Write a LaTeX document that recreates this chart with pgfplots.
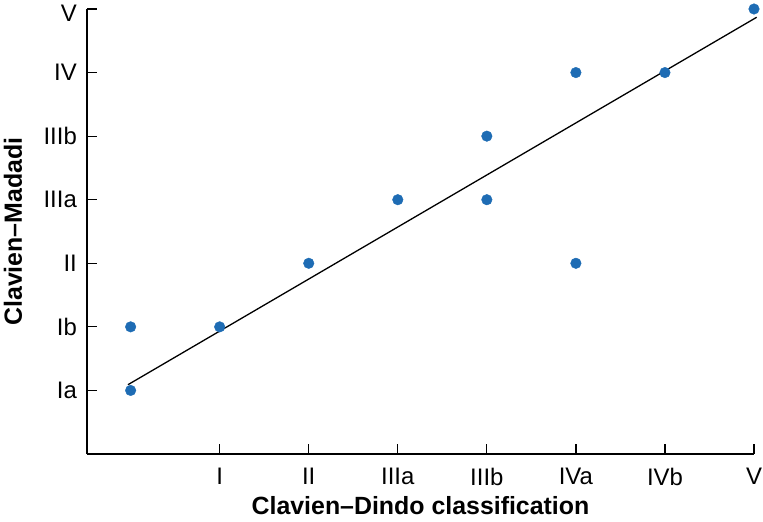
\documentclass[border=0pt]{standalone}
\usepackage{pgfplots}
\pgfplotsset{compat=1.18}
\usepackage{fontspec}
\setmainfont{Liberation Sans}
\definecolor{ptblue}{RGB}{30,108,180}
\begin{document}
\begin{tikzpicture}
\useasboundingbox (-87bp,-68bp) rectangle (676bp,454bp);
\begin{axis}[
 at={(0,0)}, anchor=south west,
 scale only axis, width=667bp, height=445bp,
 xmin=-0.49, xmax=7, ymin=0, ymax=7,
 axis x line*=bottom, axis y line*=left,
 axis line style={line width=1.2bp},
 tick style={line width=1.2bp, black},
 tick align=inside, major tick length=10bp,
 xtick={1,2,3,4,5,6,7}, xticklabels={I,II,IIIa,IIIb,IVa,IVb,V},
 ytick={1,2,3,4,5,6,7}, yticklabels={Ia,Ib,II,IIIa,IIIb,IV,\raisebox{-12bp}[0pt][0pt]{V}},
 tick label style={font=\fontsize{24}{27}\selectfont},
 xticklabel style={anchor=north, inner sep=0pt, yshift=-14bp},
 yticklabel style={anchor=east, inner sep=0pt, xshift=-10bp},
 xlabel={Clavien–Dindo classification}, ylabel={Clavien–Madadi},
 label style={font=\fontsize{25}{28}\selectfont\bfseries},
 xlabel style={at={(axis description cs:0.5,-0.115)}, anchor=center},
 ylabel style={at={(axis description cs:-0.111,0.5)}, anchor=center},
 clip=false,
]
\addplot[black, line width=1.3bp] coordinates {(-0.03,1.09) (7.03,6.87)};
\addplot[only marks, mark=*, mark size=5.3bp, color=ptblue, mark options={draw=ptblue, fill=ptblue}] coordinates {
(0,1) (0,2) (1,2) (2,3) (3,4) (4,4) (4,5) (5,3) (5,6) (6,6) (7,7)};
\end{axis}
\end{tikzpicture}
\end{document}
